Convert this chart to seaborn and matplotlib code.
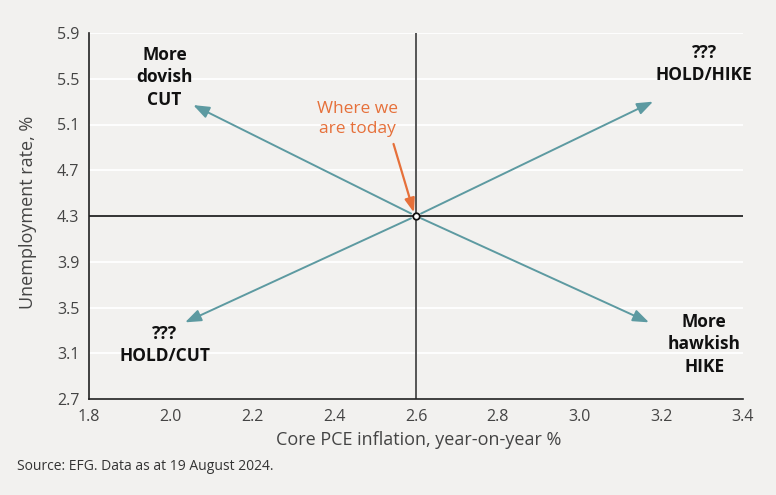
import matplotlib
matplotlib.use("Agg")
import matplotlib.pyplot as plt
import seaborn as sns
import pandas as pd

# Data
current_x = 2.6
current_y = 4.3
scenario_labels = ["More\ndovish\nCUT", "???\nHOLD/HIKE", "???\nHOLD/CUT", "More\nhawkish\nHIKE"]
arrow_end_x = [2.055, 3.18, 2.035, 3.17]
arrow_end_y = [5.27, 5.30, 3.37, 3.37]
label_x = [1.985, 3.305, 1.985, 3.305]
label_y = [5.515, 5.63, 3.17, 3.18]
x_ticks = [1.8, 2.0, 2.2, 2.4, 2.6, 2.8, 3.0, 3.2, 3.4]
y_ticks = [2.7, 3.1, 3.5, 3.9, 4.3, 4.7, 5.1, 5.5, 5.9]

BG = "#f2f1ef"
TEAL = "#5d9aa1"
ORANGE = "#e6703a"

sns.set_theme(style="white")
plt.rcParams['font.family'] = ['Open Sans', 'DejaVu Sans']

fig = plt.figure(figsize=(7.76, 4.95), dpi=100, facecolor=BG)
ax = fig.add_axes([89/776, 1 - 399/495, (743-89)/776, (399-33)/495])
ax.set_facecolor(BG)

df = pd.DataFrame({"x": [current_x], "y": [current_y]})

ax.set_xlim(1.8, 3.4)
ax.set_ylim(2.7, 5.9)
ax.set_xticks(x_ticks)
ax.set_yticks(y_ticks)
ax.set_xticklabels([f"{v:.1f}" for v in x_ticks])
ax.set_yticklabels([f"{v:.1f}" for v in y_ticks])
for v in y_ticks[1:]:
    ax.axhline(v, color="white", lw=1.3, zorder=0)

for s in ["top", "right"]:
    ax.spines[s].set_visible(False)
for s in ["left", "bottom"]:
    ax.spines[s].set_color("#222222")
    ax.spines[s].set_linewidth(1.2)
ax.tick_params(axis="both", direction="out", length=5, width=1, color="#222222",
               labelsize=11.5, labelcolor="#444444", pad=2)

ax.axvline(current_x, color="#555555", lw=1.4, zorder=1)
ax.axhline(current_y, color="#111111", lw=1.2, zorder=1)

for ex, ey in zip(arrow_end_x, arrow_end_y):
    ax.annotate("", xy=(ex, ey), xytext=(current_x, current_y),
                arrowprops=dict(arrowstyle="-|>,head_length=0.8,head_width=0.3",
                                color=TEAL, lw=1.4, shrinkA=4, shrinkB=0),
                zorder=2)

for lx, ly, txt in zip(label_x, label_y, scenario_labels):
    ax.text(lx, ly, txt, ha="center", va="center", fontsize=12.5,
            fontweight="bold", color="#111111", linespacing=1.32)

sns.scatterplot(data=df, x="x", y="y", ax=ax, s=22, color="white",
                edgecolor="#111111", linewidth=1.3, zorder=5)

ax.annotate("", xy=(current_x - 0.005, current_y + 0.03), xytext=(2.545, 4.93),
            arrowprops=dict(arrowstyle="-|>,head_length=0.7,head_width=0.25",
                            color=ORANGE, lw=1.6, shrinkA=0, shrinkB=0), zorder=4)
ax.text(2.456, 5.15, "Where we\nare today", ha="center", va="center",
        fontsize=12.5, color=ORANGE, linespacing=1.32)

ax.set_xlabel("Core PCE inflation, year-on-year %", fontsize=13, color="#444444")
ax.set_ylabel("Unemployment rate, %", fontsize=13, color="#444444")
ax.xaxis.set_label_coords((419 - 89) / 654, -(440 - 399) / 366)
ax.yaxis.set_label_coords(-(89 - 28) / 654, (399 - 212) / 366)
ax.xaxis.label.set_va("center")
ax.yaxis.label.set_va("center")

fig.text(17/776, 1 - 467/495, "Source: EFG. Data as at 19 August 2024.",
         fontsize=10, color="#333333", va="center", ha="left")

fig.savefig("out.png", dpi=100, facecolor=BG)
